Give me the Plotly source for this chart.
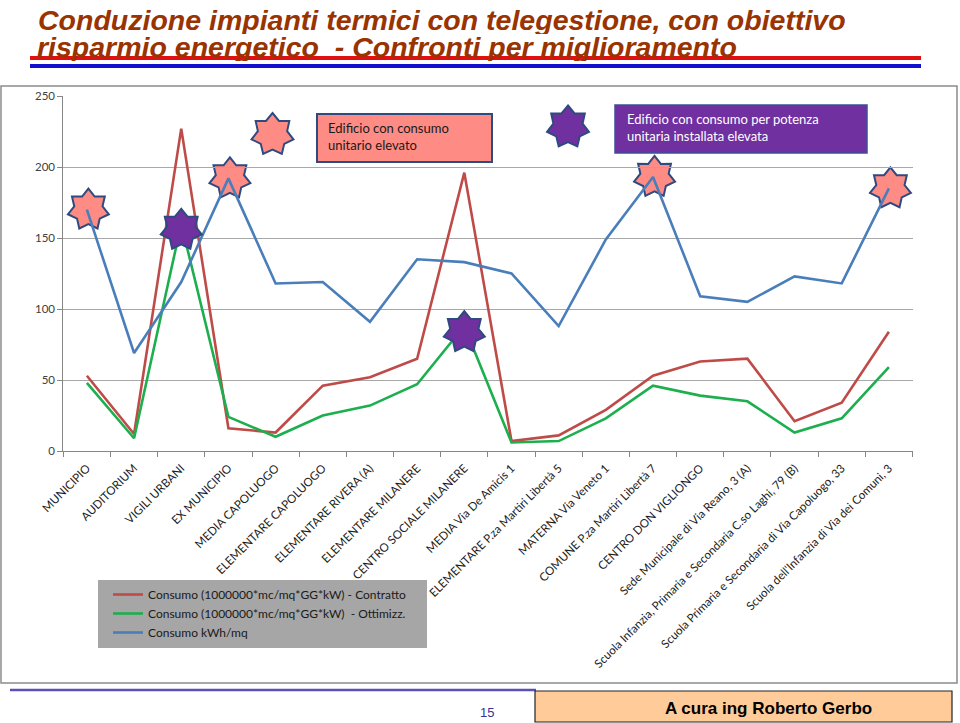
import math
import plotly.graph_objects as go

# ---------------- data ----------------
categories = [
    "MUNICIPIO", "AUDITORIUM", "VIGILI URBANI", "EX MUNICIPIO", "MEDIA CAPOLUOGO",
    "ELEMENTARE CAPOLUOGO", "ELEMENTARE RIVERA (A)", "ELEMENTARE MILANERE",
    "CENTRO SOCIALE MILANERE", "MEDIA Via De Amicis 1",
    "ELEMENTARE P.za Martiri Libertà 5", "MATERNA Via Veneto 1",
    "COMUNE P.za Martiri Libertà 7", "CENTRO DON VIGLIONGO",
    "Sede Municipale di Via Reano, 3 (A)",
    "Scuola Infanzia, Primaria e Secondaria C.so Laghi, 79 (B)",
    "Scuola Primaria e Secondaria di Via Capoluogo, 33",
    "Scuola dell'Infanzia di Via dei Comuni, 3",
]
contratto = [53, 12, 227, 16, 13, 46, 52, 65, 196, 7, 11, 29, 53, 63, 65, 21, 34, 84]
ottimizz = [48, 9, 160, 24, 10, 25, 32, 47, 88, 6, 7, 23, 46, 39, 35, 13, 23, 59]
kwh_mq = [170, 69, 119, 192, 118, 119, 91, 135, 133, 125, 88, 149, 193, 109, 105, 123, 118, 185]

series_names = [
    "Consumo (1000000*mc/mq*GG*kW) - Contratto",
    "Consumo (1000000*mc/mq*GG*kW)  - Ottimizz.",
    "Consumo kWh/mq",
]
y_ticks = [0, 50, 100, 150, 200, 250]

# highlighted buildings
high_unit_idx = [0, 3, 12, 17]      # consumo unitario elevato (on kWh/mq)
high_power_idx = [2, 8]             # consumo per potenza elevata (on ottimizz.)

title_line1 = "Conduzione impianti termici con telegestione, con obiettivo"
title_line2 = "risparmio energetico  - Confronti per miglioramento"
box_unit_text = "Edificio con consumo<br>unitario elevato"
box_power_text = "Edificio con consumo per potenza<br>unitaria installata elevata"
page_number = "15"
author_text = "A cura ing Roberto Gerbo"

# ---------------- layout geometry (pixels) ----------------
W, H = 960, 723
PX_L, PX_R = 63.3, 912.5
PX_T, PX_B = 96.0, 451.0
Y_MAX = 250

def px_x(p):
    return p / W

def px_y(p):
    return 1 - p / H

def data_to_px(i, v):
    n = len(categories)
    x = PX_L + (PX_R - PX_L) * (i + 0.5) / n
    y = PX_B - (PX_B - PX_T) * v / Y_MAX
    return x, y

def star_path(cx, cy, r_out, r_in, points=7):
    pts = []
    for k in range(points * 2):
        r = r_out if k % 2 == 0 else r_in
        a = -math.pi / 2 + k * math.pi / points
        pts.append((cx + r * math.cos(a), cy + r * math.sin(a)))
    s = "M " + " L ".join(f"{px_x(x):.5f},{px_y(y):.5f}" for x, y in pts) + " Z"
    return s

PINK = "#FF8C84"
PURPLE = "#7030A0"
STAR_EDGE = "#2E4A80"

fig = go.Figure()
xs = list(range(len(categories)))
colors = ["#BE4B48", "#1DAE4E", "#4A7EBB"]
for name, vals, col in zip(series_names, [contratto, ottimizz, kwh_mq], colors):
    fig.add_trace(go.Scatter(x=xs, y=vals, mode="lines", name=name,
                             line=dict(color=col, width=2.6)))

shapes = []
# outer chart frame
shapes.append(dict(type="rect", xref="paper", yref="paper",
                   x0=px_x(1), x1=px_x(957), y0=px_y(683), y1=px_y(86),
                   line=dict(color="#8C8C8C", width=1.5), fillcolor="rgba(0,0,0,0)", layer="below"))
# legend background
shapes.append(dict(type="rect", xref="paper", yref="paper",
                   x0=px_x(98), x1=px_x(427), y0=px_y(648), y1=px_y(580),
                   line=dict(width=0), fillcolor="#A6A6A6", layer="above"))
# title underlines
shapes.append(dict(type="line", xref="paper", yref="paper",
                   x0=px_x(30), x1=px_x(921), y0=px_y(58), y1=px_y(58),
                   line=dict(color="#E01010", width=4)))
shapes.append(dict(type="line", xref="paper", yref="paper",
                   x0=px_x(30), x1=px_x(921), y0=px_y(66), y1=px_y(66),
                   line=dict(color="#1010D0", width=4)))
# footer
shapes.append(dict(type="line", xref="paper", yref="paper",
                   x0=px_x(10), x1=px_x(536), y0=px_y(690), y1=px_y(690),
                   line=dict(color="#5A50B8", width=2.5)))
shapes.append(dict(type="rect", xref="paper", yref="paper",
                   x0=px_x(535), x1=px_x(952), y0=px_y(722), y1=px_y(691),
                   line=dict(color="#222222", width=1.2), fillcolor="#FFCC99"))
# annotation boxes
shapes.append(dict(type="rect", xref="paper", yref="paper",
                   x0=px_x(317), x1=px_x(492), y0=px_y(162), y1=px_y(114),
                   line=dict(color="#2E4A80", width=2), fillcolor=PINK, layer="above"))
shapes.append(dict(type="rect", xref="paper", yref="paper",
                   x0=px_x(615), x1=px_x(867), y0=px_y(153), y1=px_y(105),
                   line=dict(color="#3C4F9A", width=1.5), fillcolor=PURPLE, layer="above"))
# key stars next to the boxes
shapes.append(dict(type="path", xref="paper", yref="paper",
                   path=star_path(272.5, 134.5, 21.5, 15), fillcolor=PINK,
                   line=dict(color=STAR_EDGE, width=2), layer="above"))
shapes.append(dict(type="path", xref="paper", yref="paper",
                   path=star_path(568, 127, 21.5, 15), fillcolor=PURPLE,
                   line=dict(color=STAR_EDGE, width=2), layer="above"))
# stars on highlighted points
for i in high_unit_idx:
    cx, cy = data_to_px(i, kwh_mq[i])
    shapes.append(dict(type="path", xref="paper", yref="paper",
                       path=star_path(cx + 1.5, cy, 21, 14.5), fillcolor=PINK,
                       line=dict(color=STAR_EDGE, width=2), layer="between"))
for i in high_power_idx:
    cx, cy = data_to_px(i, ottimizz[i])
    shapes.append(dict(type="path", xref="paper", yref="paper",
                       path=star_path(cx, cy + 6, 21, 14.5), fillcolor=PURPLE,
                       line=dict(color=STAR_EDGE, width=2), layer="above"))

TITLE_FONT = "Liberation Sans, Arial, sans-serif"
annotations = [
    dict(text=f"<b><i>{title_line1}</i></b>", xref="paper", yref="paper",
         x=px_x(36), y=px_y(3.5), xanchor="left", yanchor="top", showarrow=False,
         height=28, valign="middle",
         font=dict(family=TITLE_FONT, size=28.5, color="#993300")),
    dict(text=f"<b><i>{title_line2}</i></b>", xref="paper", yref="paper",
         x=px_x(35), y=px_y(31.5), xanchor="left", yanchor="top", showarrow=False,
         height=28, valign="middle",
         font=dict(family=TITLE_FONT, size=28.5, color="#993300")),
    dict(text=box_unit_text, xref="paper", yref="paper", align="left",
         x=px_x(326), y=px_y(136), xanchor="left", yanchor="middle", showarrow=False,
         font=dict(family="Lato, sans-serif", size=13, color="#1A1A1A")),
    dict(text=box_power_text, xref="paper", yref="paper", align="left",
         x=px_x(625), y=px_y(127), xanchor="left", yanchor="middle", showarrow=False,
         font=dict(family="Lato, sans-serif", size=13, color="#FFFFFF")),
    dict(text=page_number, xref="paper", yref="paper",
         x=px_x(487), y=px_y(712), xanchor="center", yanchor="middle", showarrow=False,
         font=dict(family=TITLE_FONT, size=13, color="#333399")),
    dict(text=f"<b>{author_text}</b>", xref="paper", yref="paper",
         x=px_x(768), y=px_y(708), xanchor="center", yanchor="middle", showarrow=False,
         font=dict(family=TITLE_FONT, size=17, color="#000000")),
]

fig.update_layout(
    width=W, height=H,
    margin=dict(l=0, r=0, t=0, b=0),
    paper_bgcolor="white", plot_bgcolor="white",
    shapes=shapes, annotations=annotations,
    font=dict(family="Lato, sans-serif", color="#262626"),
    showlegend=True,
    legend=dict(x=px_x(108), y=px_y(580), xanchor="left", yanchor="top",
                bgcolor="rgba(0,0,0,0)", borderwidth=0,
                font=dict(family="Lato, sans-serif", size=12, color="#1A1A1A"),
                itemwidth=30, tracegroupgap=0),
    xaxis=dict(domain=[px_x(PX_L), px_x(PX_R)], range=[-0.5, len(categories) - 0.5],
               automargin=False,
               tickmode="array", tickvals=xs, ticktext=categories, tickangle=-45,
               ticks="", ticklabelstandoff=5, showgrid=False, zeroline=False, showline=True,
               linecolor="#868686", linewidth=1,
               tickfont=dict(family="Lato, sans-serif", size=11.6, color="#1A1A1A"),
               minor=dict(tickmode="array", tickvals=[i - 0.5 for i in range(len(categories) + 1)],
                          ticks="outside", ticklen=5, tickcolor="#868686", showgrid=False)),
    yaxis=dict(domain=[px_y(PX_B), px_y(PX_T)], range=[0, Y_MAX],
               automargin=False,
               tickmode="array", tickvals=y_ticks, ticks="outside", ticklen=5,
               tickcolor="#868686", showgrid=True, gridcolor="#A8A8A8", gridwidth=1,
               zeroline=False, showline=True, linecolor="#868686", linewidth=1,
               tickfont=dict(family="Lato, sans-serif", size=11.5, color="#404040")),
)

fig.write_html("out.html", config={"displayModeBar": False},
               post_script="document.body.style.margin='0';document.body.style.overflow='hidden';")
